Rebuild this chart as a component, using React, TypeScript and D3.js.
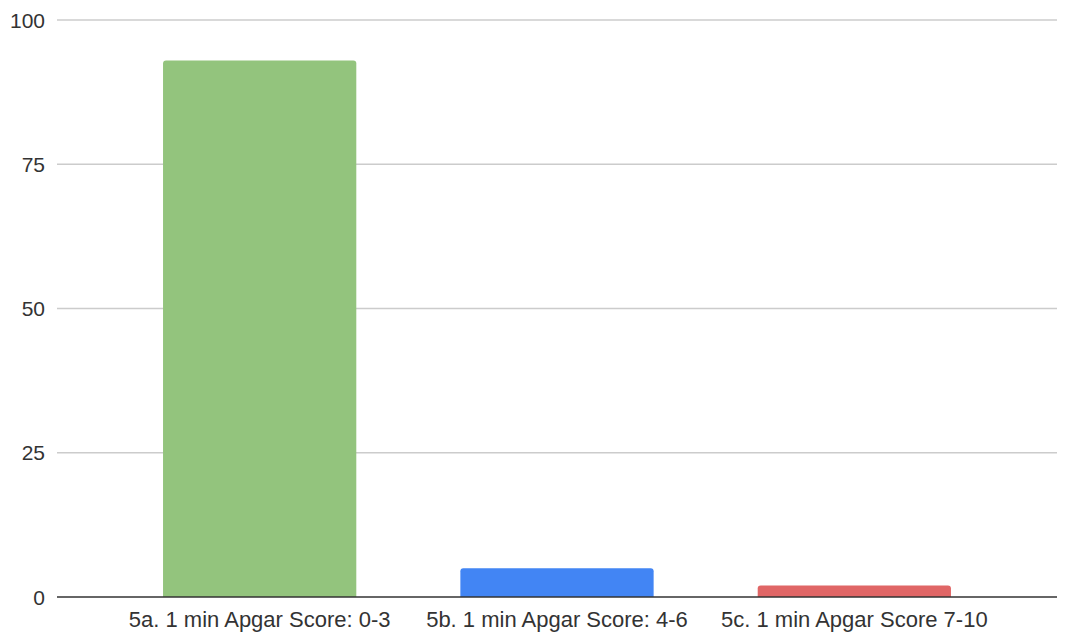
import React, { useEffect, useRef } from 'react';
import * as d3 from 'd3';

const categories: string[] = [
  '5a. 1 min Apgar Score: 0-3',
  '5b. 1 min Apgar Score: 4-6',
  '5c. 1 min Apgar Score 7-10',
];
const values: number[] = [93, 5, 2];
const barColors: string[] = ['#93c47d', '#4285f4', '#e06666'];
const yTicks: number[] = [0, 25, 50, 75, 100];

const App: React.FC = () => {
  const svgRef = useRef<SVGSVGElement | null>(null);

  useEffect(() => {
    const svg = d3.select(svgRef.current);
    svg.selectAll('*').remove();

    const W = 1075;
    const H = 633;
    const plotLeft = 57;
    const plotRight = 1057;
    const top = 20;
    const bottom = 597;
    const font = '"Liberation Sans", Arial, sans-serif';

    const x = d3
      .scaleBand<string>()
      .domain(categories)
      .range([111, 1003])
      .paddingInner(0.35)
      .paddingOuter(0.175);
    const y = d3.scaleLinear().domain([0, 100]).range([bottom, top]);

    svg.attr('width', W).attr('height', H).style('display', 'block');

    // grid lines
    svg
      .append('g')
      .selectAll('line')
      .data(yTicks.filter(t => t !== 0))
      .join('line')
      .attr('x1', plotLeft)
      .attr('x2', plotRight)
      .attr('y1', d => y(d))
      .attr('y2', d => y(d))
      .attr('stroke', '#cccccc')
      .attr('stroke-width', 1.5);

    // y tick labels
    svg
      .append('g')
      .selectAll('text')
      .data(yTicks)
      .join('text')
      .attr('x', 45)
      .attr('y', d => y(d))
      .attr('dy', '0.36em')
      .attr('text-anchor', 'end')
      .attr('font-family', font)
      .attr('font-size', 21)
      .attr('fill', '#333')
      .text(d => d);

    // bars with rounded tops
    const r = 3;
    svg
      .append('g')
      .selectAll('path')
      .data(values)
      .join('path')
      .attr('fill', (_, i) => barColors[i])
      .attr('d', (d, i) => {
        const x0 = x(categories[i]) as number;
        const w = x.bandwidth();
        const y0 = y(d);
        const rr = Math.min(r, (bottom - y0) / 2);
        return `M${x0},${bottom}V${y0 + rr}Q${x0},${y0} ${x0 + rr},${y0}H${x0 + w - rr}Q${x0 + w},${y0} ${x0 + w},${y0 + rr}V${bottom}Z`;
      });

    // baseline
    svg
      .append('line')
      .attr('x1', plotLeft)
      .attr('x2', plotRight)
      .attr('y1', y(0))
      .attr('y2', y(0))
      .attr('stroke', '#333')
      .attr('stroke-width', 1.5);

    // x labels
    svg
      .append('g')
      .selectAll('text')
      .data(categories)
      .join('text')
      .attr('x', d => (x(d) as number) + x.bandwidth() / 2)
      .attr('y', 627)
      .attr('text-anchor', 'middle')
      .attr('font-family', font)
      .attr('font-size', 22)
      .attr('fill', '#333')
      .text(d => d);
  }, []);

  return (
    <div style={{ position: 'absolute', left: 0, top: 0 }}>
      <svg ref={svgRef} />
    </div>
  );
};

export default App;
